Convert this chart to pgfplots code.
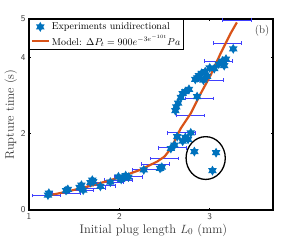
\documentclass[border=0pt]{standalone}
\usepackage{pgfplots}
\pgfplotsset{compat=1.18}
\definecolor{mblue}{rgb}{0,0.447,0.741}
\definecolor{morange}{rgb}{0.85,0.325,0.098}
\definecolor{ebar}{rgb}{0.25,0.25,1}
\pgfdeclareplotmark{hexagram}{%
  \pgfpathmoveto{\pgfqpointpolar{90}{\pgfplotmarksize}}%
  \pgfpathlineto{\pgfqpointpolar{210}{\pgfplotmarksize}}%
  \pgfpathlineto{\pgfqpointpolar{330}{\pgfplotmarksize}}%
  \pgfpathclose
  \pgfpathmoveto{\pgfqpointpolar{270}{\pgfplotmarksize}}%
  \pgfpathlineto{\pgfqpointpolar{30}{\pgfplotmarksize}}%
  \pgfpathlineto{\pgfqpointpolar{150}{\pgfplotmarksize}}%
  \pgfpathclose
  \pgfusepathqfill}
\begin{document}
\begin{tikzpicture}
\useasboundingbox (0,0) rectangle (300bp,245bp);
\begin{axis}[
  at={(29bp,35bp)}, anchor=south west,
  width=244bp, height=191bp, scale only axis,
  xmin=1, xmax=3.7, ymin=0, ymax=5,
  xtick={1,2,3}, ytick={0,2,4,5},
  axis line style={line width=1.4pt},
  tick align=inside, major tick length=2pt,
  tick style={black, line width=1pt},
  tick label style={font=\fontsize{9}{10}\selectfont\sffamily, text=black!75},
  /pgf/number format/assume math mode=true,
  xlabel={Initial plug length $L_0$ (mm)},
  ylabel={Rupture time (s)},
  label style={font=\fontsize{12.5}{14}\selectfont, text=black!80},
  xlabel style={at={(axis description cs:0.51,-0.105)}, anchor=center},
  ylabel style={at={(axis description cs:-0.075,0.5)}, anchor=center},
  legend style={at={(axis description cs:0,1)}, anchor=north west,
    draw=black, line width=1.4pt, font=\fontsize{10}{12}\selectfont,
    inner sep=1pt, row sep=0pt, cells={anchor=west}},
  legend cell align=left,
  clip=false,
]
\addplot[only marks, mark=hexagram, mark size=5pt, color=mblue, fill=mblue] table {
x y
1.21 0.39
1.22 0.44
1.41 0.51
1.43 0.54
1.56 0.59
1.58 0.65
1.60 0.52
1.68 0.72
1.70 0.78
1.71 0.74
1.79 0.62
1.90 0.73
1.99 0.87
2.02 0.80
2.05 0.85
2.07 0.90
2.10 0.86
2.27 1.05
2.45 1.09
2.47 1.12
2.57 1.61
2.61 1.70
2.64 1.92
2.70 1.80
2.73 1.90
2.76 1.85
2.79 2.02
2.62 2.60
2.63 2.70
2.65 2.80
2.68 2.95
2.70 3.05
2.73 3.10
2.77 3.16
2.86 2.97
2.84 3.42
2.86 3.46
2.88 3.52
2.91 3.58
2.93 3.40
2.95 3.62
2.97 3.50
3.00 3.72
3.05 3.70
3.10 3.82
3.14 3.90
3.16 3.78
3.18 3.95
3.26 4.22
2.83 1.53
3.07 1.50
3.03 1.03
};
\addlegendentry{Experiments unidirectional}
\addplot[forget plot, draw=none, mark=none,
  error bars/.cd, x dir=both, x explicit,
  error bar style={draw=ebar, line width=0.9pt},
  error mark options={draw=ebar, rotate=90, mark size=1.8pt, line width=0.7pt}]
  table[x error=ex] {
x y ex
1.19 0.375 0.155
1.41 0.44 0.155
1.555 0.51 0.155
1.685 0.57 0.155
1.80 0.63 0.155
1.89 0.72 0.155
1.99 0.78 0.155
2.095 0.87 0.155
2.30 1.05 0.155
2.40 1.20 0.155
2.495 1.35 0.155
2.59 1.63 0.155
2.685 2.02 0.155
2.78 2.47 0.155
2.89 2.92 0.155
2.995 3.40 0.155
3.095 3.90 0.155
3.195 4.37 0.155
3.30 4.97 0.155
};
\addplot[morange, line width=2.2pt, mark=none] table {
x y
1.196 0.37
1.42 0.48
1.71 0.65
1.97 0.83
2.23 1.05
2.42 1.27
2.50 1.40
2.55 1.55
2.60 1.75
2.64 1.95
2.68 2.14
2.79 2.53
2.90 3.05
3.01 3.53
3.12 4.10
3.23 4.62
3.30 4.91
};
\addlegendentry{Model: $\Delta P_t = 900e^{-3e^{-10t}}Pa$}
\draw[black, line width=1.3pt] (axis cs:2.955,1.36) ellipse [x radius=0.217, y radius=0.56];
\node[font=\fontsize{11}{13}\selectfont, text=black!80] at (axis description cs:0.955,0.937) {(b)};
\end{axis}
\end{tikzpicture}
\end{document}
